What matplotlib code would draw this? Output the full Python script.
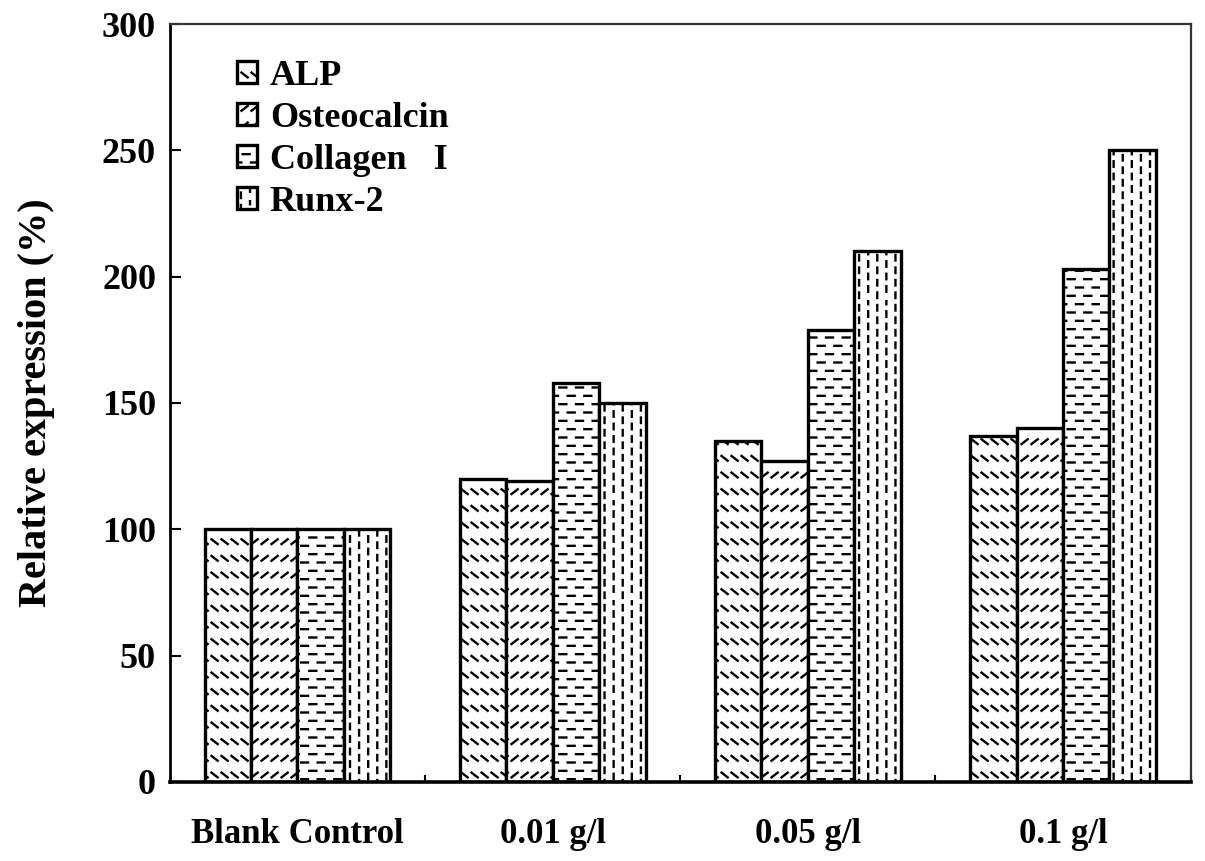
import numpy as np
import matplotlib
matplotlib.use('Agg')
import matplotlib.pyplot as plt
from matplotlib import hatch as mhatch
from matplotlib.path import Path

# data
groups = ['Blank Control', '0.01 g/l', '0.05 g/l', '0.1 g/l']
alp = [100, 120, 135, 137]
osteocalcin = [100, 119, 127, 140]
collagen = [100, 158, 179, 203]
runx2 = [100, 150, 210, 250]
series = ['ALP', 'Osteocalcin', 'Collagen   I', 'Runx-2']


# the original uses broken (dashed) hatching, so swap matplotlib's hatch
# generators for short-dash versions of the same four symbols
class DashHatch(mhatch.HatchPatternBase):
    def __init__(self, hatch, density):
        segs = []
        if '-' in hatch:
            rows, per = 12, 6
            for r in range(rows):
                y = (r + 0.5) / rows
                off = 0.5 / per if r % 2 else 0.0
                for c in range(per):
                    x0 = c / per + off + 0.01
                    segs.append(((x0, y), (x0 + 0.07, y)))
        if '|' in hatch:
            cols, per = 11, 8
            for c in range(cols):
                x = (c + 0.5) / cols
                off = 0.5 / per if c % 2 else 0.0
                for r in range(per):
                    y0 = r / per + off + 0.02
                    segs.append(((x, y0), (x, y0 + 0.055)))
        for ch, sgn in (('\\', -1), ('/', 1)):
            if ch in hatch:
                rows, per = 6, 10
                for r in range(rows):
                    y = (r + 0.5) / rows
                    for c in range(per):
                        x0 = c / per + 0.015
                        segs.append(((x0, y - sgn * 0.024),
                                     (x0 + 0.062, y + sgn * 0.024)))
        self.segs = segs
        self.num_vertices = 2 * len(segs)

    def set_vertices_and_codes(self, vertices, codes):
        for i, (a, b) in enumerate(self.segs):
            vertices[2 * i] = a
            vertices[2 * i + 1] = b
        codes[0::2] = Path.MOVETO
        codes[1::2] = Path.LINETO


mhatch._hatch_types = [DashHatch]

plt.rcParams['font.family'] = ['Liberation Serif', 'DejaVu Serif']
plt.rcParams['font.weight'] = 'bold'
plt.rcParams['hatch.linewidth'] = 1.7

fig = plt.figure(figsize=(12.05, 8.61), dpi=100)
ax = fig.add_axes([0.141, 0.092, 0.847, 0.880])

x = np.arange(len(groups))
w = 0.182
hatches = ['\\', '/', '-', '|']
for i, (vals, lab, h) in enumerate(zip([alp, osteocalcin, collagen, runx2], series, hatches)):
    ax.bar(x + (i - 1.5) * w, vals, w, facecolor='white', edgecolor='black',
           linewidth=2.4, hatch=h, label=lab)

ax.set_xlim(-0.5, 3.5)
ax.set_ylim(0, 300)
ax.set_yticks(np.arange(0, 301, 50))
ax.set_xticks(x)
ax.set_xticklabels(groups)
ax.set_xticks(np.arange(0.5, 3.6, 1), minor=True)
ax.tick_params(axis='x', which='major', length=0, pad=26, labelsize=25)
ax.tick_params(axis='x', which='minor', direction='in', length=5, width=1.5)
ax.tick_params(axis='y', direction='in', length=8, width=1.5, pad=10, labelsize=26)
ax.set_ylabel('Relative expression (%)', fontsize=29, fontweight='bold', labelpad=34)

ax.spines['left'].set_linewidth(2)
ax.spines['bottom'].set_linewidth(2.6)
ax.spines['top'].set_linewidth(1.6)
ax.spines['right'].set_linewidth(1.6)
ax.spines['top'].set_color('#333333')
ax.spines['right'].set_color('#333333')

ax.legend(loc='upper left', bbox_to_anchor=(0.066, 0.953), frameon=False,
          fontsize=26, handlelength=0.55, handleheight=0.55, handletextpad=0.35,
          labelspacing=0.25, borderpad=0, borderaxespad=0)

fig.savefig('out.png', dpi=100)
